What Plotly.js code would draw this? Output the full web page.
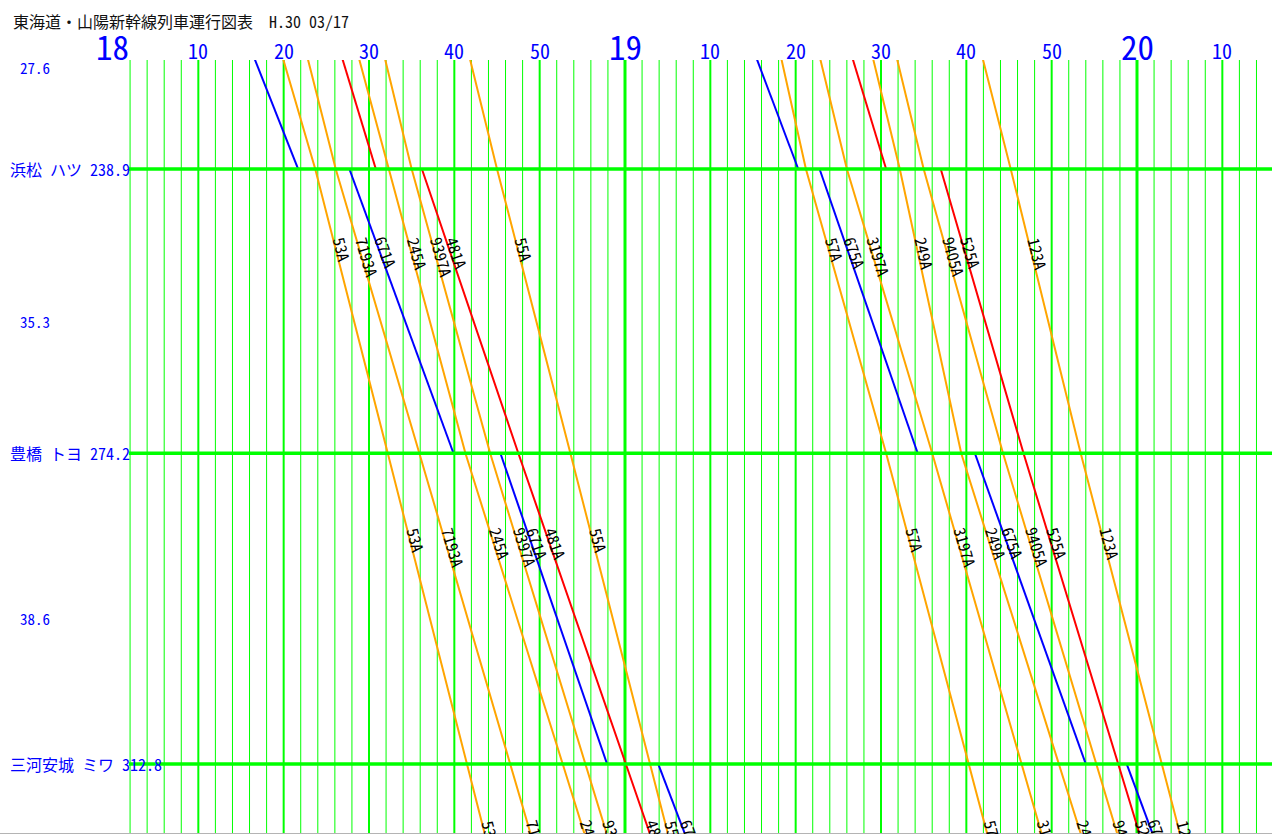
<!DOCTYPE html>
<html>
<head>
<meta charset="utf-8">
<script src="https://cdn.plot.ly/plotly-3.0.1.min.js"></script>
<style>
  html, body { margin: 0; padding: 0; background: #fff; overflow: hidden; }
  #dia { width: 1272px; height: 834px; }
</style>
</head>
<body>
<div id="dia"></div>
<script>
// Stations on this stretch of the line (km from Tokyo)
const stationName = ['掛川', '浜松', '豊橋', '三河安城', '名古屋'];
const stationCode = ['', 'ハツ', 'トヨ', 'ミワ', ''];
const stationKm   = [211.3, 238.9, 274.2, 312.8, 342.0];

// Trains (times are minutes past 18:00)
const trainNo   = ['671A', '53A', '7193A', '481A', '245A', '9397A', '55A',
                   '675A', '57A', '3197A', '525A', '249A', '9405A', '123A'];
const trainType = ['kodama', 'nozomi', 'nozomi', 'hikari', 'nozomi', 'nozomi', 'nozomi',
                   'kodama', 'nozomi', 'nozomi', 'hikari', 'nozomi', 'nozomi', 'nozomi'];

const kakegawaDep   = [11.4, 16.1, 19.5, 22.9, 25.3, 28.7, 38.6, 70.5, 75.4, 79.7, 82.7, 85.9, 88.7, 98.6];
const hamamatsuArr  = [21.7, 23.7, 26.1, 30.8, 32.3, 35.0, 45.0, 80.3, 81.2, 86.0, 90.6, 92.2, 95.0, 105.2];
const hamamatsuDep  = [27.7, 23.7, 26.1, 36.2, 32.3, 35.0, 45.0, 82.8, 81.2, 86.0, 97.0, 92.2, 95.0, 105.2];
const toyohashiArr  = [39.9, 32.2, 35.9, 47.5, 41.3, 44.2, 53.6, 94.3, 90.6, 96.0, 106.7, 99.4, 104.3, 113.4];
const toyohashiDep  = [45.4, 32.2, 35.9, 47.5, 41.3, 44.2, 53.6, 101.0, 90.6, 96.0, 106.7, 99.4, 104.3, 113.4];
const mikawaAnjoArr = [57.9, 41.5, 46.5, 60.1, 52.7, 55.4, 62.9, 114.0, 100.3, 106.4, 117.8, 110.9, 115.2, 122.9];
const mikawaAnjoDep = [63.9, 41.5, 46.5, 60.1, 52.7, 55.4, 62.9, 118.8, 100.3, 106.4, 117.8, 110.9, 115.2, 122.9];
const nagoyaArr     = [74.4, 48.5, 54.6, 69.6, 61.3, 63.8, 70.0, 129.0, 107.6, 114.4, 126.2, 119.5, 123.5, 130.1];

// Clock labels along the top
const hourTicks   = [0, 60, 120];
const hourText    = ['18', '19', '20'];
const minuteTicks = [10, 20, 30, 40, 50, 70, 80, 90, 100, 110, 130];
const minuteText  = ['10', '20', '30', '40', '50', '10', '20', '30', '40', '50', '10'];

const chartTitle = '東海道・山陽新幹線列車運行図表　H.30 03/17';

// ---- drawing ----
const W = 1272, H = 834;
const M = { l: 129, r: 0, t: 60, b: 0 };
const plotW = W - M.l - M.r, plotH = H - M.t - M.b;
const xRange = [1.875, 135.82];
const yRange = [321.49, 225.36];           // km, reversed (down trains run downward)
const pxPerMin = plotW / (xRange[1] - xRange[0]);
const pxPerKm  = plotH / (yRange[0] - yRange[1]);

const FONT = '"Noto Sans Mono CJK JP", "Noto Sans CJK JP", "DejaVu Sans Mono", monospace';
const GREEN = '#00ff00';
const typeColor = { nozomi: '#ffa500', hikari: '#ff0000', kodama: '#0000ff' };

const px2paperX = px => (px - M.l) / plotW;
const px2paperY = py => 1 - (py - M.t) / plotH;
const t2paper  = t => (t - xRange[0]) / (xRange[1] - xRange[0]);
const km2paper = km => (yRange[0] - km) / (yRange[0] - yRange[1]);

const arrCols = [null, hamamatsuArr, toyohashiArr, mikawaAnjoArr, nagoyaArr];
const depCols = [kakegawaDep, hamamatsuDep, toyohashiDep, mikawaAnjoDep, null];

const traces = [];
const annotations = [];
const LABEL_FONT = 16;
const LABEL_FRAC = 0.243;

function trainLabel(name, t0, km0, t1, km1) {
  const dxp = (t1 - t0) * pxPerMin, dyp = (km1 - km0) * pxPerKm;
  const len = Math.hypot(dxp, dyp);
  const ux = dxp / len, uy = dyp / len;
  const ang = Math.atan2(dyp, dxp) * 180 / Math.PI;
  const L = name.length * LABEL_FONT * 0.5;
  const cy = LABEL_FRAC * dyp + 1 + uy * L / 2;   // px below the departure station
  const f = cy / dyp;
  const t = t0 + f * (t1 - t0), km = km0 + f * (km1 - km0);
  return {
    x: t2paper(t), y: km2paper(km), xref: 'paper', yref: 'paper',
    text: name, textangle: ang, showarrow: false,
    xanchor: 'center', yanchor: 'middle',
    xshift: uy * 6, yshift: ux * 6,
    font: { family: FONT, size: LABEL_FONT, color: '#000' }
  };
}

trainNo.forEach((no, i) => {
  const xs = [], ys = [];
  for (let s = 0; s < stationKm.length; s++) {
    const a = arrCols[s] ? arrCols[s][i] : null;
    const d = depCols[s] ? depCols[s][i] : null;
    if (a !== null) { xs.push(a); ys.push(stationKm[s]); }
    if (a !== null && d !== null && d !== a) { xs.push(null); ys.push(null); }
    if (d !== null && d !== a) { xs.push(d); ys.push(stationKm[s]); }
  }
  traces.push({
    type: 'scatter', mode: 'lines', x: xs, y: ys, name: no,
    line: { color: typeColor[trainType[i]], width: 2 },
    hoverinfo: 'skip', showlegend: false, connectgaps: false
  });
  // number along each running section below 浜松
  for (let s = 1; s < stationKm.length - 1; s++) {
    annotations.push(trainLabel(no, depCols[s][i], stationKm[s], arrCols[s + 1][i], stationKm[s + 1]));
  }
});

// time grid every 2 minutes
const shapes = [];
for (let m = 2; m <= 134; m += 2) {
  const w = m % 60 === 0 ? 3 : (m % 10 === 0 ? 2 : 1);
  shapes.push({
    type: 'line', layer: 'below', xref: 'x', yref: 'paper',
    x0: m, x1: m, y0: 0, y1: 1, line: { color: GREEN, width: w }
  });
}
// station lines
for (let s = 1; s <= 3; s++) {
  shapes.push({
    type: 'line', layer: 'above', xref: 'paper', yref: 'y',
    x0: 0, x1: 1, y0: stationKm[s], y1: stationKm[s], line: { color: GREEN, width: 3.5 }
  });
}
// bottom border
shapes.push({
  type: 'line', layer: 'above', xref: 'paper', yref: 'paper',
  x0: px2paperX(0), x1: 1, y0: px2paperY(833.5), y1: px2paperY(833.5),
  line: { color: '#b4b4b4', width: 1 }
});

// title
annotations.push({
  x: px2paperX(11), y: px2paperY(21), xref: 'paper', yref: 'paper',
  xanchor: 'left', yanchor: 'middle', showarrow: false, text: chartTitle,
  font: { family: FONT, size: 16, color: '#111' }
});
// clock labels
hourTicks.forEach((t, k) => annotations.push({
  x: t2paper(t), y: 1, xref: 'paper', yref: 'paper', yshift: 14,
  xanchor: 'center', yanchor: 'middle', showarrow: false, text: hourText[k],
  font: { family: FONT, size: 33, color: '#0000ff' }
}));
minuteTicks.forEach((t, k) => annotations.push({
  x: t2paper(t), y: 1, xref: 'paper', yref: 'paper', yshift: 10,
  xanchor: 'center', yanchor: 'middle', showarrow: false, text: minuteText[k],
  font: { family: FONT, size: 20, color: '#0000ff' }
}));
// station names
for (let s = 1; s <= 3; s++) {
  annotations.push({
    x: px2paperX(8), y: km2paper(stationKm[s]), xref: 'paper', yref: 'paper',
    xanchor: 'left', yanchor: 'middle', showarrow: false,
    text: stationName[s] + ' ' + stationCode[s] + ' ' + stationKm[s].toFixed(1),
    font: { family: FONT, size: 16, color: '#0000ff' }
  });
}
// section lengths between stations
for (let s = 0; s < 3; s++) {
  const mid = (stationKm[s] + stationKm[s + 1]) / 2;
  annotations.push({
    x: px2paperX(18), y: km2paper(mid), xref: 'paper', yref: 'paper', yshift: -10,
    xanchor: 'left', yanchor: 'middle', showarrow: false,
    text: (stationKm[s + 1] - stationKm[s]).toFixed(1),
    font: { family: FONT, size: 15, color: '#0000ff' }
  });
}

const layout = {
  width: W, height: H, margin: M,
  paper_bgcolor: '#ffffff', plot_bgcolor: '#ffffff',
  xaxis: { range: xRange, visible: false, fixedrange: true },
  yaxis: { range: yRange, visible: false, fixedrange: true },
  shapes, annotations, hovermode: false, showlegend: false
};

Plotly.newPlot('dia', traces, layout, { staticPlot: true, displayModeBar: false });
</script>
</body>
</html>
